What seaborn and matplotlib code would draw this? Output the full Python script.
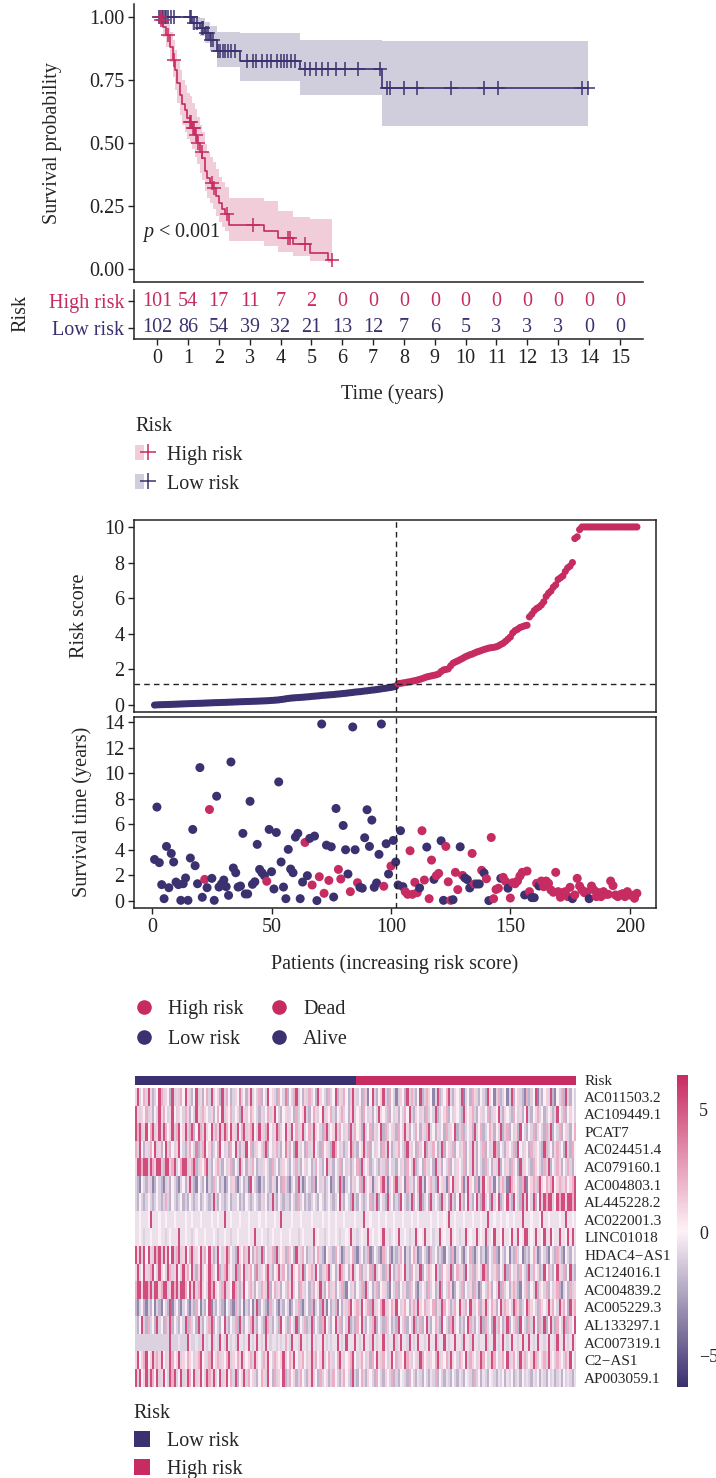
import numpy as np
import pandas as pd
import matplotlib
matplotlib.use("Agg")
import matplotlib.pyplot as plt
import seaborn as sns
from matplotlib.colors import LinearSegmentedColormap, ListedColormap
from matplotlib.lines import Line2D
from matplotlib.patches import Patch
from matplotlib.legend_handler import HandlerTuple

sns.set_style("ticks")
plt.rcParams["font.family"] = ["Liberation Serif", "DejaVu Serif"]
plt.rcParams["mathtext.fontset"] = "custom"
plt.rcParams["mathtext.rm"] = "Liberation Serif"
plt.rcParams["mathtext.it"] = "Liberation Serif:italic"

HIGH = "#C62B61"
LOW = "#3C3170"
FS = 14.5

# ---------------- Kaplan-Meier data ----------------
years = list(range(16))
at_risk_high = [101, 54, 17, 11, 7, 2, 0, 0, 0, 0, 0, 0, 0, 0, 0, 0]
at_risk_low = [102, 86, 54, 39, 32, 21, 13, 12, 7, 6, 5, 3, 3, 3, 0, 0]

km_high_time = [0.0, 0.10, 0.20, 0.30, 0.42, 0.50, 0.58, 0.66, 0.74, 0.82, 0.90,
                0.98, 1.06, 1.14, 1.22, 1.30, 1.38, 1.46, 1.54, 1.62, 1.70, 1.80,
                1.90, 2.00, 2.10, 2.20, 2.33, 3.45, 3.93, 4.42, 4.96, 5.55]
km_high_surv = [1.0, 0.99, 0.96, 0.93, 0.88, 0.83, 0.79, 0.74, 0.69, 0.655, 0.63,
                0.60, 0.585, 0.56, 0.53, 0.50, 0.465, 0.44, 0.39, 0.36, 0.34, 0.32,
                0.29, 0.26, 0.24, 0.22, 0.175, 0.152, 0.124, 0.10, 0.063, 0.036]
km_high_lower = [1.0, 0.97, 0.92, 0.88, 0.82, 0.76, 0.71, 0.66, 0.61, 0.57, 0.545,
                 0.515, 0.50, 0.475, 0.445, 0.415, 0.38, 0.355, 0.31, 0.28, 0.26, 0.24,
                 0.21, 0.185, 0.165, 0.15, 0.11, 0.09, 0.067, 0.05, 0.03, 0.024]
km_high_upper = [1.0, 1.0, 1.0, 0.98, 0.94, 0.91, 0.87, 0.83, 0.79, 0.75, 0.73,
                 0.70, 0.685, 0.66, 0.635, 0.605, 0.57, 0.545, 0.495, 0.465, 0.445, 0.425,
                 0.395, 0.365, 0.345, 0.325, 0.28, 0.27, 0.23, 0.205, 0.20, 0.20]
cens_high = [0.08, 0.13, 0.19, 0.36, 0.54, 1.07, 1.10, 1.15, 1.20, 1.25, 1.32,
             1.45, 1.78, 1.84, 2.28, 3.12, 4.25, 4.32, 4.80, 5.68]

km_low_time = [0.0, 1.12, 1.38, 1.55, 1.72, 1.93, 2.68, 4.62, 7.28]
km_low_surv = [1.0, 0.978, 0.957, 0.935, 0.91, 0.865, 0.827, 0.793, 0.72]
km_low_lower = [1.0, 0.95, 0.925, 0.895, 0.865, 0.80, 0.745, 0.69, 0.567]
km_low_upper = [1.0, 1.0, 0.995, 0.98, 0.965, 0.94, 0.935, 0.909, 0.906]
cens_low = [0.05, 0.10, 0.15, 0.20, 0.25, 0.30, 0.36, 0.45, 0.55, 1.05, 1.09,
            1.20, 1.30, 1.45, 1.50, 1.60, 1.66, 1.76, 1.82, 1.98, 2.05, 2.12,
            2.20, 2.30, 2.40, 2.52, 2.92, 3.10, 3.22, 3.40, 3.55, 3.70, 3.88,
            4.00, 4.10, 4.22, 4.35, 4.47, 4.78, 4.95, 5.15, 5.35, 5.55, 5.80,
            6.10, 6.50, 7.22, 7.44, 7.55, 8.00, 8.41, 9.53, 10.60, 11.05, 13.76, 13.96]

# ---------------- per-patient data (ordered by risk score) ----------------
risk_score = [
    0.00, 0.01, 0.015, 0.02, 0.025, 0.03, 0.035, 0.04, 0.045, 0.05,
    0.055, 0.06, 0.065, 0.07, 0.075, 0.08, 0.085, 0.09, 0.095, 0.10,
    0.105, 0.11, 0.115, 0.12, 0.125, 0.13, 0.135, 0.14, 0.145, 0.15,
    0.155, 0.16, 0.165, 0.17, 0.175, 0.18, 0.185, 0.19, 0.195, 0.20,
    0.205, 0.21, 0.215, 0.22, 0.225, 0.23, 0.235, 0.24, 0.25, 0.26,
    0.27, 0.28, 0.29, 0.31, 0.33, 0.35, 0.37, 0.39, 0.40, 0.41,
    0.42, 0.43, 0.44, 0.45, 0.46, 0.47, 0.49, 0.50, 0.51, 0.52,
    0.54, 0.55, 0.56, 0.57, 0.58, 0.59, 0.61, 0.62, 0.63, 0.65,
    0.66, 0.68, 0.69, 0.71, 0.73, 0.74, 0.75, 0.77, 0.79, 0.80,
    0.82, 0.84, 0.85, 0.87, 0.89, 0.91, 0.93, 0.95, 0.97, 0.99,
    1.02, 1.05,
    1.20, 1.22, 1.24, 1.26, 1.29, 1.31, 1.34, 1.37, 1.40, 1.44,
    1.48, 1.53, 1.58, 1.61, 1.64, 1.67, 1.70, 1.75, 1.88, 1.97,
    2.00, 2.03, 2.20, 2.35, 2.42, 2.48, 2.55, 2.62, 2.70, 2.76,
    2.82, 2.86, 2.92, 2.98, 3.02, 3.07, 3.12, 3.16,
    3.20, 3.22, 3.24, 3.27, 3.32, 3.40, 3.47, 3.58, 3.70, 3.82,
    4.05, 4.18, 4.25, 4.35, 4.40, 4.45, 4.48, 4.95, 5.10, 5.30,
    5.42, 5.50, 5.62, 5.80, 6.10, 6.28, 6.40, 6.62, 6.75, 7.05,
    7.15, 7.25, 7.50, 7.70, 7.80, 8.00, 9.35, 9.45, 9.85,
    10.0, 10.0, 10.0, 10.0, 10.0, 10.0, 10.0, 10.0, 10.0, 10.0,
    10.0, 10.0, 10.0, 10.0, 10.0, 10.0, 10.0, 10.0, 10.0, 10.0,
    10.0, 10.0, 10.0, 10.0,
]
surv_time = [
    3.25, 7.35, 3.00, 1.28, 0.18, 4.27, 1.04, 3.72, 3.05, 1.48,
    1.28, 0.05, 1.35, 1.80, 0.05, 3.36, 5.60, 2.76, 1.35, 10.44,
    0.29, 1.69, 1.04, 7.16, 1.77, 0.05, 8.20, 1.09, 1.33, 1.64,
    1.12, 0.44, 10.88, 2.58, 2.21, 1.09, 1.17, 5.29, 0.55, 0.55,
    7.80, 1.30, 1.50, 4.43, 2.47, 2.21, 1.98, 1.54, 5.60, 2.29,
    0.94, 5.36, 9.32, 3.05, 1.09, 0.18, 4.04, 2.50, 2.21, 5.00,
    5.29, 0.18, 1.48, 4.58, 1.98, 4.90, 1.25, 5.08, 0.03, 1.90,
    13.85, 0.60, 4.37, 1.61, 4.24, 0.31, 7.24, 2.47, 1.72, 5.91,
    4.01, 2.11, 0.73, 13.62, 4.01, 1.43, 1.07, 1.00, 4.95, 7.14,
    4.27, 6.33, 1.07, 1.41, 3.65, 13.85, 1.15, 4.48, 2.11, 2.73,
    4.74, 3.05,
    1.25, 5.50, 1.12, 0.73, 0.52, 3.93, 0.52, 1.46, 0.65, 1.02,
    5.50, 1.64, 4.22, 0.18, 3.20, 1.69, 1.98, 2.16, 4.71, 0.05,
    4.27, 1.50, 0.05, 0.10, 2.24, 0.89, 4.24, 2.00, 1.80, 1.67,
    1.02, 3.72, 1.33, 1.33, 1.33, 2.40, 2.19, 1.74,
    0.03, 4.97, 0.18, 0.90, 1.00, 1.77, 1.85, 1.54, 1.00, 0.23,
    1.43, 1.35, 1.56, 1.95, 2.24, 0.47, 2.34, 0.73, 0.26, 0.26,
    1.38, 1.17, 1.56, 1.12, 1.56, 1.38, 0.86, 0.68, 2.24, 0.73,
    0.29, 0.65, 0.73, 0.34, 1.07, 0.18, 0.47, 1.77, 1.17, 0.86,
    0.65, 0.70, 0.18, 1.17, 0.86, 0.34, 0.65, 0.34, 0.73, 0.52,
    0.52, 1.56, 1.20, 0.47, 0.34, 0.49, 0.57, 0.34, 0.73, 0.47,
    0.44, 0.21, 0.60,
]
# 1 = dead, 0 = alive
status = [
    0, 0, 0, 0, 0, 0, 0, 0, 0, 0,
    0, 0, 0, 0, 0, 0, 0, 0, 0, 0,
    0, 1, 0, 1, 0, 0, 0, 0, 0, 0,
    0, 0, 0, 0, 0, 0, 0, 0, 0, 0,
    0, 0, 0, 0, 0, 0, 0, 1, 0, 0,
    0, 0, 0, 0, 0, 0, 0, 0, 0, 0,
    0, 0, 0, 1, 0, 0, 1, 0, 0, 1,
    0, 1, 0, 1, 0, 0, 0, 1, 1, 0,
    0, 0, 1, 0, 0, 1, 0, 0, 0, 0,
    0, 0, 0, 0, 0, 0, 1, 0, 0, 1,
    0, 0,
    0, 0, 0, 1, 1, 1, 1, 1, 1, 0,
    1, 1, 0, 1, 1, 0, 1, 1, 0, 0,
    1, 1, 1, 0, 1, 1, 0, 1, 0, 0,
    0, 1, 1, 0, 0, 1, 0, 1,
    0, 1, 1, 1, 1, 0, 1, 1, 0, 1,
    1, 1, 1, 1, 1, 0, 1, 1, 0, 0,
    1, 0, 1, 1, 1, 1, 1, 1, 1, 1,
    1, 1, 1, 1, 1, 0, 1, 1, 1, 1,
    1, 1, 0, 1, 1, 1, 1, 1, 1, 1,
    1, 1, 1, 1, 1, 1, 1, 1, 1, 1,
    1, 1, 1,
]
n_low = 102
risk_cutoff = 1.18

# ---------------- heatmap (row-scaled expression) ----------------
genes = ["AC011503.2", "AC109449.1", "PCAT7", "AC024451.4", "AC079160.1",
         "AC004803.1", "AL445228.2", "AC022001.3", "LINC01018", "HDAC4\u2212AS1",
         "AC124016.1", "AC004839.2", "AC005229.3", "AL133297.1", "AC007319.1",
         "C2\u2212AS1", "AP003059.1"]
level = {"N": -5.5, "n": -3.5, "b": -2.0, "l": -1.0, "v": -0.5, "w": 0.0,
         "p": 1.1, "q": 2.2, "r": 3.6, "R": 5.3}
expr_rows = [
    "pRlwqlRpbl wRqlpwbRlp lqwRplbwRl pbwqlRlwpb Rlqwblpwrl wbpRlwlqbw lRwplbqwlr bwlqRlwbpl qlwbRpwlbq lwRbplqwbl RplwbqlnwR lbwpRlbqwl nlpwbRlqlb wRblqpwnlR blwqRlbpwl Rnlwbqplbw lbRpwnlqbl wnlRbwplbn qblwRnlbwp lRbnwlqbRl bwl",
    "Rplpwqlpbw lRpqwlpRwl pwlqpbwlRp lqpwlpbwqw RlpwqlwpbR plwqpwlbpl wqlpRwlbwp lpwbqlwpRl bwqplwRlpw qlbwpqlwbp Rlwpbqwlpb wlRpwlqbwl pbwlqwRlbp wlpbqlwlRb lwpqbwlpwl bRlwpqlbwp lwqblpwRlb pwlbqwlpbw Rlbwpqlwbl wpblRwlqbw pwl",
    "RqRlpRwqRl pRlRqwpRlq RwpRlqRbwR qlRpwRlqpR lRqwRplRwq RlpqRwlRpl qRwlpRqlwR plRwqlpRlw qlRpwlbqRl wpRlqwlpbR lqwpbRlwqb plwRbqlwpl bqwlRpbwlq wbplqRlwbp lwbqlpwRbl qblwpbRlwq blwqpbwlRb lqbwlpbRwl bwlqbpwlbq lRbwlqbwpl bwq",
    "qlRwbplqwR lpbwRlqwlp Rwlbpqwlrb lqRwpblwqR wlpbqwRlbp lRwqblpwlq Rbwlpqlbwr lqwbRplwbq lpRwlbqwpl bRqwlpblwR qlbwpRlqbw lpwbqlRwbl pqwlbRplwb qlwRbplqwb lRbwplqbwl pqbwlRpbwl qbwlpRqbwl bpwlqbRwlp wbqlpwlbRq lwbpqlwbRl bqw",
    "pRRqRRlRqp RRlqRRpqRl wqRRlpqRbl pwqRlbwpql bwlpqbwlRl wbplqwbllp wlbqlwblpw lbwlqlbwpl wblqwlbwRl pbwlqbwlpb lwqbRlwpbl wlbplqbwll bwlpbqwlRb lwbqplwbRl pbwlqbwlpw lqbwlRpbwl bqlwbplRbw lpbqlwbRlp wlbqpwlbql Rbwlqpbwlq lbw",
    "lbnwlbplnb wlbnlpbwlb nlwbpRlbnw lbwnlbqlwb lnbwlpbnlw blnRwlbnlb wlbplnwbql bnlwbRlnbw lbqnwlpblw nbwlRbnlwb plwqbRlwpn lpwqRlnpwq Rlpwnqlpbw qRlnwpqlbR wplnqwRlpw qnlRpwbqnl Rwpqlnwbpq lnRqpwlbqR nwpqlqRpwq pqRwpqlpqw pqR",
    "lbwlblwlbl wlblqlbwlb lwblbwlblw blwlblRlbw lblwbllwbl bwlblwlbpl wblRlbwlbl lbwlbqlwbl blwlbwlblw lblwRlbwlb Rlbwlblwqb lRbwlbRlwb lbRwlblRbw lRblwbRlwl bRlwbRlbwR lbwRlbwRlb RlwbRlwRbl wRlbRwlbRl RwlRbwRlRq RRlwRqRRpR RqR",
    "vvwvvvwRvv vwvvwvvvwv vvvwvvwvvv wvvvvwvvwv vRvvwvvvwv vvwvvvvwvv wvvvwvvRvv vvwvvvwvvv vwvvvvwvvw vvwvvvwvvv vwvvvRvvwv vvwvvwvvvw vvvwvvvwvv wvvvvvwvvw vvwvRvvwvv vwvvvwvvvw vvRvvwvvwv vwvvwvvvRv vvwvvvwRvv wvvvvwvvRv vwv",
    "vvwvlvvwvv vwvvlvwvvv Rvvwvvlvwv vvwvvvwvlv vwvvlvvwvv vvwvvRvvwv vlvwvvvwvv vwvvvlvwvv vvRvwvvlvw vvwvlvvwvR vvlvwvvRvw vvwvRvvlvw vRvvwvlvvR vwvRvvwlvv RvwvvRvwvl vvRvwvvRvw vRlvwRvvwR vvwRvvRwvR RvwvRvvwRv vRwvvRvvwR vRv",
    "RpRlRwRplR qRlRpRwRlq RlpRwqRlpw RlqwRpblRw lpRqwlbRpw qlRwbpqlRb wlpqbRlwpb qlwbRplqwb lpbwqlbnwp lbqwlnbplw qbnlwblqnb wlbnqlwbnl blqwnlbwql nbwlbnqlwb lbnwlbqnlw bnlwqbnlwb lnbwlqbnwl bwnlbqlwnb lbwqlnbwlb nwlbqlbnwl bwl",
    "pRlwRplqRw lRpwlRqlpR wlRpqwRlbp RlwpRqlwRb lqRpwlRbqw Rlpqwbrlpw qRlbwpRlqw blRpwqlRbw pqlRwblpqR lwbpRqlwbp Rlwqbplwqb RlwpbqlRwb lqpwRlbqwl pRbwlqpwRl bqwplRbwql pbRwlqbpwl Rqbwlpqbwl Rbqwlpbqwl bRlqwpblRw qlbwRplqbw Rlb",
    "qRRpRRqRlR RpqRRlpRqR lRRqwRpRlq RpwlRqRpwl qRlpwRqlbp Rwlqpbwlqp lRbwqlpbwl qpRlwbqplw blqwpRlbwq lpbwlqbnwl pbwlqbRlwb lqbwplbnwl qbwlpbqlwb nlwpbqlwbl Rbwlqpnbwl qbwlpbqlnb wlqpbwlRbq lwbpqlbnwl qbwlRbpwlq bwlpqbnlwb qlp",
    "bnlwbnlbwn lbnwlbRnlw bnlwbnlbqw nlbwRnlbwl bnwlbnqlbw nlbwnlRbwl bnqlwbnlbw lnbwlqbnlw bqnlwbRlnw blqnwbplqR wpqlRwpqbR lpwqRlpwqp Rwlpqwbpql Rpwqlpwqbp lRqwpblqwR plqwRplwqb pRlwqpbwRl qpwlRqpblw Rqpwlbqpwl RpqwlRpqwb Rpq",
    "lbwRlbqlwb RlwbqlRbwl bwlRbqlwbR lbwlqRbwlb wRlbwlqbRl bwlqRlbwlb RqlbwlbRwl bqwlRbwlqb lRbwlbqRwl bwRlqbwlRb lbqwRlbwlq Rbwlbqlwbl bRwlqbwlRb lqbwRlbwql bRwlbqRlwb lbwRqlbwlR bqlwbRlqwb lRbwlqbRwl bqlRwbqlRb wRlbqwlRbq lwR",
    "llllllllll llllllRlll vlllRvllvl lRvlvRlvlR vlRvlvlRvv lvRvlvRvlv Rvlvvlvlvq vlRvvlRvvl vRvlvvRvlv lvvRvlvRvv vRvlvRvvlR vlvvRvlvvR lvRvvlRvlv RvvlvRvvRl vvRvlvvRvv lRvvlRvvlv vRlvvRvlvR vlvRvvlvRv vRvlvRvvlv RvvlRvvRvl vRv",
    "pRwpqRwpRl qpRwlpRqwp Rlpwqpwlpq RwplqRwpql pwqRlpwqpR lwpqlRpwlq pRwlqpwpRl wqpRwlpqwl pRlqwpRlwq plwqRplwpq Rwlpqwlpbq wRplqwlpRw qlpwRqplwp lRqwplpwqR lpwqlRpwlq pwRlqpwlpR qwlpRqwlpq wRlpqwlRpq lwpRqlwpql Rpwlqpwlqp Rwl",
    "RlRwpRlRqw RlpRwlRqRl wRlpRqwRlp RwlRqpRlwR lpRwqlRbwp Rlqwplbwqp lRwbqlpwRb lqwpblqwlb pRlwbqlwpb lqwlbpqwlb Rlbwqlbpwl bqwlbpwlqb lbwvlbqwlb vlbwlbvlqb wlbvlbwlbv lbwvlbqlwb vlbwvlbvlw bvlwblvbwl vlbvlwbvlb wlvblvbwlv lbv",
]

# ---------------- derived tables ----------------
patients = np.arange(1, len(risk_score) + 1)
risk_group = np.where(patients <= n_low, "Low risk", "High risk")
pat_df = pd.DataFrame({
    "patient": patients,
    "risk_score": risk_score,
    "surv_time": surv_time,
    "state": np.where(np.array(status) == 1, "Dead", "Alive"),
    "group": risk_group,
})
expr = np.array([[level[c] for c in row.replace(" ", "")] for row in expr_rows])
group_code = (patients > n_low).astype(int).reshape(1, -1)

# ---------------- layout helpers (pixel boxes) ----------------
W, H = 716, 1478
fig = plt.figure(figsize=(W / 100, H / 100), dpi=100)


def px_axes(box):
    x0, y0, x1, y1 = box
    return fig.add_axes([x0 / W, 1 - y1 / H, (x1 - x0) / W, (y1 - y0) / H])


def frac(box, x, y):
    x0, y0, x1, y1 = box
    return (x - x0) / (x1 - x0), (y1 - y) / (y1 - y0)


def style_spines(ax, sides, lw=1.1):
    for s in ["left", "right", "top", "bottom"]:
        ax.spines[s].set_visible(s in sides)
        ax.spines[s].set_linewidth(lw)
        ax.spines[s].set_color("#222222")


TICK = dict(labelsize=FS, length=4, width=1.0, color="#222222", labelcolor="#222222", pad=3)

# ---------------- Kaplan-Meier curves ----------------
KM_BOX = (134, 4.4, 643, 281.6)
ax_km = px_axes(KM_BOX)
curves = [
    (km_low_time, km_low_surv, km_low_lower, km_low_upper, cens_low, LOW),
    (km_high_time, km_high_surv, km_high_lower, km_high_upper, cens_high, HIGH),
]
for t, s, lo, up, cens, col in curves:
    t = np.asarray(t)
    s = np.asarray(s)
    t_end = max(cens)
    tt = np.append(t, t_end)
    ss = np.append(s, s[-1])
    ax_km.fill_between(tt, np.append(lo, lo[-1]), np.append(up, up[-1]), step="post",
                       color=col, alpha=0.24, linewidth=0, zorder=1)
    sns.lineplot(x=tt, y=ss, drawstyle="steps-post", color=col, linewidth=1.2,
                 estimator=None, sort=False, ax=ax_km, zorder=2)
    idx = np.searchsorted(t, cens, side="right") - 1
    sns.scatterplot(x=cens, y=s[idx], marker="+", s=90, color=col, linewidth=1.1,
                    ax=ax_km, zorder=3)
ax_km.set_xlim(-0.75, 15.75)
ax_km.set_ylim(-0.05, 1.05)
ax_km.set_yticks([0, 0.25, 0.5, 0.75, 1.0])
ax_km.set_yticklabels(["0.00", "0.25", "0.50", "0.75", "1.00"])
ax_km.set_xticks(years)
ax_km.tick_params(axis="y", **TICK)
ax_km.tick_params(axis="x", length=0, labelbottom=False)
style_spines(ax_km, ["left", "bottom"])
ax_km.set_xlabel("")
ax_km.set_ylabel("Survival probability", fontsize=FS)
ax_km.yaxis.label.set_va("center")
ax_km.yaxis.set_label_coords(*frac(KM_BOX, 53, 143))
ax_km.text(-0.48, 0.143, "$p$ < 0.001", fontsize=FS, ha="left", va="center")

# ---------------- number at risk ----------------
TAB_BOX = (134, 290, 643, 339)
ax_tab = px_axes(TAB_BOX)
ax_tab.set_xlim(-0.75, 15.75)
ax_tab.set_ylim(-0.41, 1.41)
for yr, nh, nl in zip(years, at_risk_high, at_risk_low):
    ax_tab.text(yr, 1, str(nh), ha="center", va="center", color=HIGH, fontsize=FS)
    ax_tab.text(yr, 0, str(nl), ha="center", va="center", color=LOW, fontsize=FS)
ax_tab.set_yticks([1, 0])
ax_tab.set_yticklabels(["High risk", "Low risk"])
ax_tab.set_xticks(years)
ax_tab.tick_params(axis="both", **TICK)
for lab, c in zip(ax_tab.get_yticklabels(), [HIGH, LOW]):
    lab.set_color(c)
style_spines(ax_tab, ["left", "bottom"])
ax_tab.set_xlabel("Time (years)", fontsize=FS)
ax_tab.xaxis.label.set_va("center")
ax_tab.xaxis.set_label_coords(*frac(TAB_BOX, 392, 394))
ax_tab.set_ylabel("Risk", fontsize=FS)
ax_tab.yaxis.label.set_va("center")
ax_tab.yaxis.set_label_coords(*frac(TAB_BOX, 21, 314))

km_handles = [
    (Patch(facecolor=HIGH, alpha=0.24, edgecolor="none"),
     Line2D([], [], color=HIGH, marker="+", markersize=11, markeredgewidth=1.1, linestyle="none")),
    (Patch(facecolor=LOW, alpha=0.24, edgecolor="none"),
     Line2D([], [], color=LOW, marker="+", markersize=11, markeredgewidth=1.1, linestyle="none")),
]
leg = fig.legend(km_handles, ["High risk", "Low risk"], title="Risk",
                 handler_map={tuple: HandlerTuple(ndivide=None, pad=0)},
                 loc="upper left", bbox_to_anchor=(135 / W, 1 - 417 / H),
                 frameon=False, fontsize=FS, title_fontsize=FS, borderpad=0,
                 borderaxespad=0, handlelength=0.85, handleheight=0.8,
                 handletextpad=0.75, labelspacing=0.45)
leg._legend_box.align = "left"

# ---------------- risk score curve ----------------
RS_BOX = (134, 520, 656, 712)
ax_rs = px_axes(RS_BOX)
sns.scatterplot(data=pat_df, x="patient", y="risk_score", hue="group",
                palette={"High risk": HIGH, "Low risk": LOW}, s=26, linewidth=0,
                legend=False, ax=ax_rs, zorder=2)
ax_rs.axvline(n_low, color="#222222", linestyle=(0, (4, 3)), linewidth=1.0, zorder=3)
ax_rs.axhline(risk_cutoff, color="#222222", linestyle=(0, (4, 3)), linewidth=1.0, zorder=3)
ax_rs.set_xlim(-7.6, 211)
ax_rs.set_ylim(-0.39, 10.39)
ax_rs.set_yticks([0, 2, 4, 6, 8, 10])
ax_rs.tick_params(axis="y", **TICK)
ax_rs.tick_params(axis="x", length=0, labelbottom=False)
style_spines(ax_rs, ["left", "right", "top", "bottom"])
ax_rs.set_xlabel("")
ax_rs.set_ylabel("Risk score", fontsize=FS)
ax_rs.yaxis.label.set_va("center")
ax_rs.yaxis.set_label_coords(*frac(RS_BOX, 80, 616))

# ---------------- survival status scatter ----------------
ST_BOX = (134, 717, 656, 908)
ax_st = px_axes(ST_BOX)
sns.scatterplot(data=pat_df, x="patient", y="surv_time", hue="state",
                palette={"Dead": HIGH, "Alive": LOW}, s=42, linewidth=0,
                legend=False, ax=ax_st, zorder=2)
ax_st.axvline(n_low, color="#222222", linestyle=(0, (4, 3)), linewidth=1.0, zorder=3)
ax_st.set_xlim(-7.6, 211)
ax_st.set_ylim(-0.55, 14.4)
ax_st.set_yticks(range(0, 15, 2))
ax_st.set_xticks([0, 50, 100, 150, 200])
ax_st.tick_params(axis="both", **TICK)
style_spines(ax_st, ["left", "right", "top", "bottom"])
ax_st.set_xlabel("Patients (increasing risk score)", fontsize=FS)
ax_st.xaxis.label.set_va("center")
ax_st.xaxis.set_label_coords(*frac(ST_BOX, 395, 964))
ax_st.set_ylabel("Survival time (years)", fontsize=FS)
ax_st.yaxis.label.set_va("center")
ax_st.yaxis.set_label_coords(*frac(ST_BOX, 82, 812))

dot = dict(marker="o", linestyle="none", markersize=10.5, markeredgewidth=0)
pt_handles = [Line2D([], [], color=HIGH, **dot), Line2D([], [], color=LOW, **dot),
              Line2D([], [], color=HIGH, **dot), Line2D([], [], color=LOW, **dot)]
fig.legend(pt_handles, ["High risk", "Low risk", "Dead", "Alive"], ncol=2,
           loc="upper left", bbox_to_anchor=(134 / W, 1 - 1000 / H), frameon=False,
           fontsize=FS, borderpad=0, borderaxespad=0, handlelength=1.0,
           handletextpad=0.7, columnspacing=1.25, labelspacing=0.55)

# ---------------- expression heatmap ----------------
ANN_BOX = (134.5, 1075.5, 576, 1085)
HM_BOX = (134.5, 1088, 576, 1386.5)
CB_BOX = (677, 1075, 688, 1387)
ax_ann = px_axes(ANN_BOX)
ax_hm = px_axes(HM_BOX)
ax_cb = px_axes(CB_BOX)

sns.heatmap(group_code, cmap=ListedColormap([LOW, HIGH]), vmin=0, vmax=1, cbar=False,
            xticklabels=False, yticklabels=["Risk"], ax=ax_ann)
ax_ann.yaxis.tick_right()
ax_ann.tick_params(axis="y", length=0, labelsize=11, pad=6, labelrotation=0)

hm_cmap = LinearSegmentedColormap.from_list("expr", ["#3B306F", "#FDF2F7", "#C82C62"])
sns.heatmap(expr, cmap=hm_cmap, vmin=-6.3, vmax=6.4, cbar_ax=ax_cb,
            xticklabels=False, yticklabels=genes, ax=ax_hm)
ax_hm.yaxis.tick_right()
ax_hm.tick_params(axis="y", length=0, labelsize=11, pad=6, labelrotation=0)
ax_cb.set_yticks([-5, 0, 5])
ax_cb.tick_params(axis="y", length=0, labelsize=13, pad=8)
for s in ax_cb.spines.values():
    s.set_visible(False)

sq = dict(marker="s", linestyle="none", markersize=11.5, markeredgewidth=0)
leg3 = fig.legend([Line2D([], [], color=LOW, **sq), Line2D([], [], color=HIGH, **sq)],
                  ["Low risk", "High risk"], title="Risk", loc="upper left",
                  bbox_to_anchor=(133 / W, 1 - 1404 / H), frameon=False, fontsize=FS,
                  title_fontsize=FS, borderpad=0, borderaxespad=0, handlelength=0.9,
                  handletextpad=0.8, labelspacing=0.45)
leg3._legend_box.align = "left"

fig.savefig("out.png", dpi=100)
